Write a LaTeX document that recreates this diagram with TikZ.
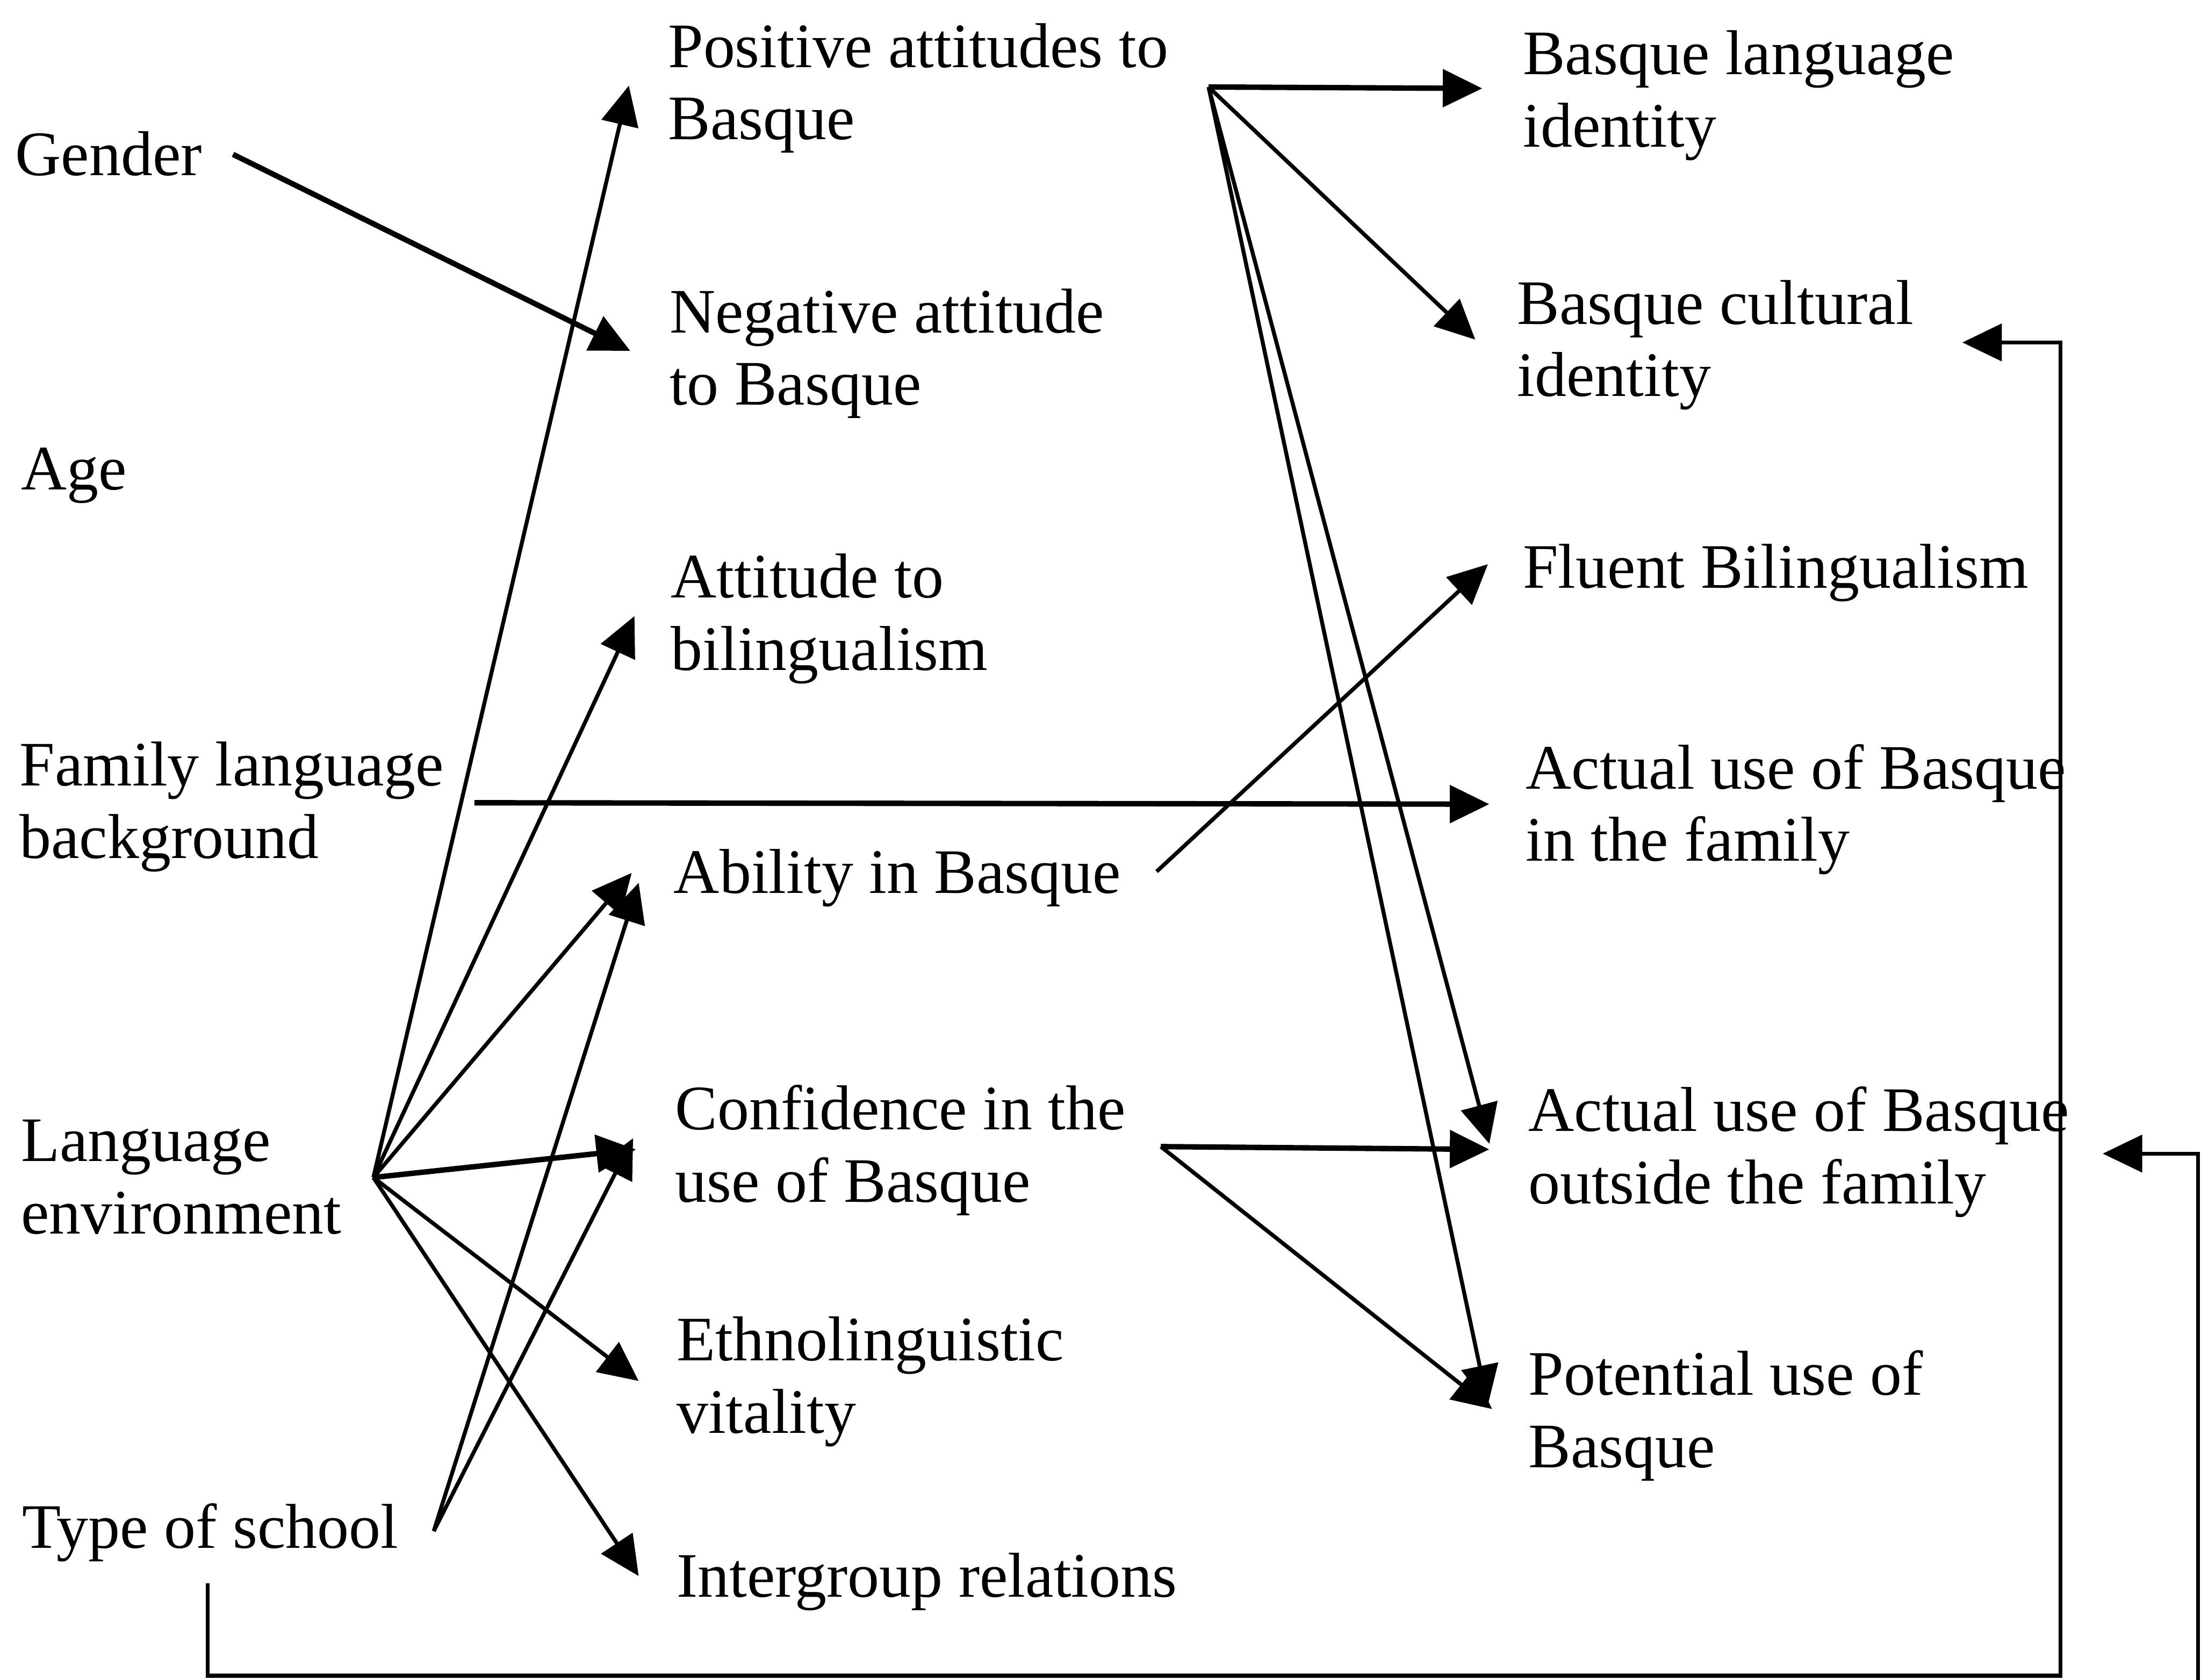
\documentclass[tikz,border=0pt]{standalone}
\usepackage{fontspec}
\setmainfont{Liberation Serif}
\usetikzlibrary{arrows.meta}

\newcommand{\lab}[1]{\begin{tabular}[t]{@{}l@{}}#1\end{tabular}}

\begin{document}
\begin{tikzpicture}[x=0.01cm, y=-0.01cm,
  label/.style={anchor=base west, inner sep=0pt, outer sep=0pt,
    font=\fontsize{12.84}{14.65}\selectfont},
  link/.style={line width=0.8pt, -{Triangle[length=8pt,width=7.5pt]}},
  heavy/.style={link, line width=1.1pt},
  route/.style={line width=0.8pt, -{Triangle[length=8pt,width=7.5pt]}}]

% canvas
\fill[white] (0,0) rectangle (1568,1197);
\useasboundingbox (0,0) rectangle (1568,1197);

% background factors
\node[label] (gender) at (11,125)   {Gender};
\node[label] (age)    at (15,349)   {Age};
\node[label] (flb)    at (14,560)   {\lab{Family language\\background}};
\node[label] (lenv)   at (15,827.5) {\lab{Language\\environment}};
\node[label] (school) at (16,1103)  {Type of school};

% attitudes and abilities
\node[label] (pos)   at (476,48)   {\lab{Positive attitudes to\\Basque}};
\node[label] (neg)   at (477,237)  {\lab{Negative attitude\\to Basque}};
\node[label] (bil)   at (478,426)  {\lab{Attitude to\\bilingualism}};
\node[label] (abil)  at (480,636.6){Ability in Basque};
\node[label] (conf)  at (481,805)  {\lab{Confidence in the\\use of Basque}};
\node[label] (eth)   at (482,969.6){\lab{Ethnolinguistic\\vitality}};
\node[label] (inter) at (482,1138) {Intergroup relations};

% outcomes
\node[label] (lid) at (1085,53)  {\lab{Basque language\\identity}};
\node[label] (cid) at (1081,231) {\lab{Basque cultural\\identity}};
\node[label] (flu) at (1085,419) {Fluent Bilingualism};
\node[label] (fam) at (1087,562) {\lab{Actual use of Basque\\in the family}};
\node[label] (out) at (1089,806) {\lab{Actual use of Basque\\outside the family}};
\node[label] (pot) at (1089,994) {\lab{Potential use of\\Basque}};

% connector ports
\coordinate (gender-o) at (166,110);
\coordinate (lenv-o)   at (266,839);
\coordinate (school-o) at (309,1091);
\coordinate (school-b) at (148,1128);
\coordinate (flb-o)    at (338,572);
\coordinate (pos-o)    at (861,62);
\coordinate (abil-o)   at (824,621);
\coordinate (conf-o)   at (827,817);

\coordinate (pos-i)   at (448,61);
\coordinate (neg-i)   at (449,250);
\coordinate (bil-i)   at (452,439);
\coordinate (abil-i)  at (450,622);
\coordinate (abil-j)  at (455,629);
\coordinate (conf-i)  at (453,819);
\coordinate (conf-j)  at (451,811);
\coordinate (eth-i)   at (455,984);
\coordinate (inter-i) at (455,1123);

\coordinate (lid-i)  at (1056,63);
\coordinate (cid-i)  at (1051,242);
\coordinate (flu-i)  at (1060,402);
\coordinate (fam-i)  at (1061,573);
\coordinate (out-i)  at (1061,815);
\coordinate (out-j)  at (1061,819);
\coordinate (pot-i)  at (1060,1001);
\coordinate (pot-j)  at (1063,1004);

\coordinate (cid-r)  at (1398,244);
\coordinate (out-r)  at (1498,822);
\coordinate (loop-a) at (148,1194);
\coordinate (loop-b) at (1468,1194);
\coordinate (loop-c) at (1468,244);
\coordinate (edge-a) at (1566,1197);
\coordinate (edge-b) at (1566,822);

% gender
\draw[heavy] (gender-o) -- (neg-i);

% language environment fan
\draw[link] (lenv-o) -- (pos-i);
\draw[link] (lenv-o) -- (bil-i);
\draw[link] (lenv-o) -- (abil-i);
\draw[heavy] (lenv-o) -- (conf-i);
\draw[link] (lenv-o) -- (eth-i);
\draw[link] (lenv-o) -- (inter-i);

% type of school
\draw[link] (school-o) -- (abil-j);
\draw[link] (school-o) -- (conf-j);

% family background
\draw[heavy] (flb-o) -- (fam-i);

% ability
\draw[link] (abil-o) -- (flu-i);

% positive attitudes
\draw[heavy] (pos-o) -- (lid-i);
\draw[link] (pos-o) -- (cid-i);
\draw[link] (pos-o) -- (out-i);
\draw[link] (pos-o) -- (pot-i);

% confidence
\draw[heavy] (conf-o) -- (out-j);
\draw[link] (conf-o) -- (pot-j);

% feedback routes along the right side
\draw[route] (school-b) -- (loop-a) -- (loop-b) -- (loop-c) -- (cid-r);
\draw[route] (edge-a) -- (edge-b) -- (out-r);
\end{tikzpicture}
\end{document}
